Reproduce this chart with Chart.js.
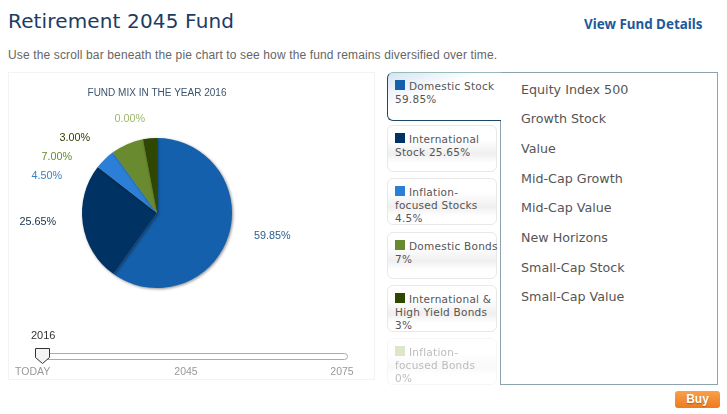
<!DOCTYPE html>
<html>
<head>
<meta charset="utf-8">
<script src="https://cdn.jsdelivr.net/npm/chart.js@4"></script>
<style>
html, body { margin: 0; padding: 0; background: #fff; }
body { width: 727px; height: 414px; position: relative; overflow: hidden; font-family: "DejaVu Sans", sans-serif; }
.abs { position: absolute; white-space: nowrap; }
#heading { left: 8px; top: 7px; font-size: 20px; line-height: 28px; color: #1c3c64; letter-spacing: 0.15px; }
#details { left: 584px; top: 15px; font-family: "Noto Sans", sans-serif; font-weight: bold; font-size: 13.4px; line-height: 18px; color: #1d5a9c; }
#intro { left: 8px; top: 47px; font-family: "Liberation Sans", sans-serif; font-size: 12px; line-height: 16px; color: #666; letter-spacing: 0.135px; }
#panel { left: 8px; top: 72px; width: 365px; height: 306px; border: 1px solid #f3f3f3; box-sizing: content-box; }
#pie { position: absolute; left: 7px; top: 73px; }
#year { left: 31px; top: 328px; font-family: "Liberation Sans", sans-serif; font-size: 11px; line-height: 14px; color: #333; }
#track { left: 36px; top: 353px; width: 310px; height: 5px; border: 1px solid #aaa; border-radius: 4px; background: #fff; }
#thumb { position: absolute; left: 34px; top: 347px; }
.tick { top: 365px; font-family: "Liberation Sans", sans-serif; font-size: 10.5px; line-height: 13px; color: #999; }
#content { left: 500px; top: 72px; width: 216px; height: 311px; border: 1px solid #8ea3b0; background: #fff; }
.tab { position: absolute; left: 387px; width: 108px; height: 45px; border: 1px solid #e8e8e8; border-radius: 6px;
  background: linear-gradient(#fff 0%, #fff 30%, #efefef 62%, #fff 82%, #fff 100%);
  font-size: 10.5px; line-height: 13px; color: #555; box-sizing: content-box; }
.tab .txt { position: absolute; left: 7px; top: 7px; width: 104px; letter-spacing: 0.25px; white-space: pre-line; }
.tab .sw { display: inline-block; width: 10px; height: 10px; margin-right: 4px; }
.tab.active { width: 113px; height: 47px; border: 1px solid #1c4a66; border-right: 0; border-top-color: #9bb; border-radius: 6px 0 0 6px; background: linear-gradient(160deg, #d5e4f2 0%, #fff 40%); z-index: 2; }
.tab.faded { opacity: 0.4; }
.fund { position: absolute; left: 521px; font-size: 12.7px; line-height: 18px; color: #555; white-space: nowrap; }
#buy { left: 675px; top: 391px; width: 45px; height: 17px; border-radius: 3px; background: linear-gradient(#f9a04b, #ee7a1c); color: #fff; font-family: "Liberation Sans", sans-serif; font-weight: bold; font-size: 12px; line-height: 17px; text-align: center; text-shadow: 0 1px 1px #b85a10; }
</style>
</head>
<body>
<div id="heading" class="abs">Retirement 2045 Fund</div>
<div id="details" class="abs">View Fund Details</div>
<div id="intro" class="abs">Use the scroll bar beneath the pie chart to see how the fund remains diversified over time.</div>
<div id="panel" class="abs"></div>
<canvas id="pie" width="300" height="280"></canvas>
<div id="year" class="abs"></div>
<div id="track" class="abs"></div>
<svg id="thumb" width="18" height="18"><path d="M1.5 1.5h14v9l-7 6l-7-6z" fill="#f4f4f4" stroke="#333" stroke-width="1"/></svg>
<div id="content" class="abs"></div>
<div id="buy" class="abs">Buy</div>

<script>
// chart data
const chartTitle = 'FUND MIX IN THE YEAR 2016';
const categories = ['Domestic Stock', 'International Stock', 'Inflation-focused Stocks', 'Domestic Bonds', 'International & High Yield Bonds', 'Inflation-focused Bonds'];
const mixValues = [59.85, 25.65, 4.5, 7, 3, 0];
const sliceColors = ['#1460ac', '#003263', '#2b7fd6', '#6a8a2f', '#2f4700', '#a9c27c'];
const labelColors = ['#2a5f92', '#12304f', '#3b7fc4', '#6a8a2f', '#2f3f00', '#9db86c'];
const fundNames = ['Equity Index 500', 'Growth Stock', 'Value', 'Mid-Cap Growth', 'Mid-Cap Value', 'New Horizons', 'Small-Cap Stock', 'Small-Cap Value'];
const currentYear = '2016';
const timelineLabels = ['TODAY', '2045', '2075'];

// where each pie label sits, offset from the pie centre
const labelOffsets = [[97, 23, 'left'], [-101, 9, 'right'], [-95, -37, 'right'], [-85, -56, 'right'], [-67, -75, 'right'], [-12, -94, 'right']];

// Pie labels and the soft shadow under the pie
const pieExtras = {
    id: 'pieExtras',
    beforeDatasetsDraw(chart) {
        chart.ctx.save();
        chart.ctx.shadowColor = 'rgba(0,0,0,0.45)';
        chart.ctx.shadowBlur = 3;
        chart.ctx.shadowOffsetX = 1;
        chart.ctx.shadowOffsetY = 1;
    },
    afterDatasetsDraw(chart) {
        const ctx = chart.ctx;
        ctx.restore();
        const arc = chart.getDatasetMeta(0).data[0];
        ctx.save();
        ctx.font = '10.8px "Liberation Sans", sans-serif';
        ctx.textBaseline = 'middle';
        mixValues.forEach((v, i) => {
            ctx.fillStyle = labelColors[i];
            ctx.textAlign = labelOffsets[i][2];
            ctx.fillText(v.toFixed(2) + '%', arc.x + labelOffsets[i][0], arc.y + labelOffsets[i][1]);
        });
        ctx.restore();
    }
};

const pieCtx = document.getElementById('pie').getContext('2d');
const pieChart = new Chart(pieCtx, {
    type: 'pie',
    data: {
        labels: categories,
        datasets: [{
            data: mixValues,
            backgroundColor: sliceColors,
            borderWidth: 0
        }]
    },
    options: {
        responsive: false,
        animation: false,
        layout: { padding: { top: 0, bottom: 65 } },
        plugins: {
            legend: { display: false },
            tooltip: { enabled: false },
            title: {
                display: true,
                text: chartTitle,
                color: '#3c5470',
                font: { family: '"Liberation Sans", sans-serif', size: 10, weight: 'normal' },
                padding: { top: 14, bottom: 39 }
            }
        }
    },
    plugins: [pieExtras]
});

// Slider labels
document.getElementById('year').textContent = currentYear;
const tickSpots = [[15, 'left'], [186, 'center'], [342, 'center']];
timelineLabels.forEach((t, i) => {
    const el = document.createElement('div');
    el.className = 'abs tick';
    el.textContent = t;
    el.style.left = tickSpots[i][0] + 'px';
    if (tickSpots[i][1] === 'center') el.style.transform = 'translateX(-50%)';
    document.body.appendChild(el);
});

// Tabs on the left of the fund list
const tabTops = [72, 125, 178, 232, 285, 338];
categories.forEach((name, i) => {
    const tab = document.createElement('div');
    tab.className = 'tab' + (i === 0 ? ' active' : '') + (mixValues[i] === 0 ? ' faded' : '');
    tab.style.top = tabTops[i] + 'px';
    const txt = document.createElement('div');
    txt.className = 'txt';
    const sw = document.createElement('span');
    sw.className = 'sw';
    sw.style.background = sliceColors[i];
    txt.appendChild(sw);
    // the inflation tabs take three lines in the reference
    const isInflation = name.startsWith('Inflation-');
    const tabText = name.replace('Inflation-', 'Inflation-\n') + (isInflation ? '\n' : ' ') + mixValues[i] + '%';
    txt.appendChild(document.createTextNode(tabText));
    tab.appendChild(txt);
    document.body.appendChild(tab);
});

// Fund names in the box
const fundTops = [81, 110, 140, 170, 199, 229, 259, 288];
fundNames.forEach((name, i) => {
    const el = document.createElement('div');
    el.className = 'fund';
    el.textContent = name;
    el.style.top = fundTops[i] + 'px';
    document.body.appendChild(el);
});
</script>
</body>
</html>
